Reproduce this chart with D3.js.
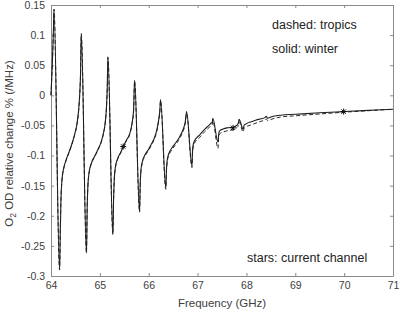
<!DOCTYPE html>
<html>
<head>
<meta charset="utf-8">
<script src="https://cdn.jsdelivr.net/npm/d3@7"></script>
<style>
  body { margin: 0; background: #fff; }
  text { font-family: Arial, "Liberation Sans", sans-serif; }
</style>
</head>
<body>
<script>
// frequency (GHz) and relative change values
var winterFreq = [64.00, 64.03, 64.05, 64.061, 64.176,
  64.19, 64.205, 64.225, 64.26, 64.31, 64.37, 64.43, 64.48, 64.53, 64.565, 64.59, 64.606, 64.619, 64.726,
  64.74, 64.755, 64.78, 64.83, 64.90, 64.96, 65.02, 65.07, 65.11, 65.135, 65.152, 65.165, 65.267,
  65.28, 65.295, 65.32, 65.37, 65.43, 65.48, 65.54, 65.61, 65.66, 65.69, 65.711, 65.813,
  65.825, 65.84, 65.87, 65.93, 66.00, 66.06, 66.12, 66.17, 66.205, 66.228, 66.242, 66.350,
  66.362, 66.378, 66.41, 66.47, 66.54, 66.61, 66.67, 66.72, 66.75, 66.775, 66.886,
  66.895, 66.91, 66.94, 67.04, 67.15, 67.23, 67.28, 67.30, 67.311, 67.419,
  67.43, 67.45, 67.52, 67.60, 67.73, 67.80, 67.835, 67.848, 67.934,
  67.95, 68.00, 68.10, 68.20, 68.30, 68.38, 68.404, 68.435,
  68.5, 68.7, 69.0, 69.5, 70.0, 70.5, 71.0];
var winterVal = [0.000, 0.059, 0.108, 0.143, -0.290,
  -0.225, -0.170, -0.140, -0.121, -0.107, -0.094, -0.080, -0.066, -0.048, -0.025, 0.005, 0.040, 0.103, -0.262,
  -0.190, -0.150, -0.128, -0.112, -0.100, -0.090, -0.079, -0.064, -0.045, -0.020, 0.015, 0.064, -0.231,
  -0.175, -0.140, -0.118, -0.104, -0.094, -0.085, -0.075, -0.064, -0.046, -0.025, 0.025, -0.193,
  -0.150, -0.125, -0.110, -0.098, -0.089, -0.080, -0.070, -0.056, -0.040, -0.025, -0.007, -0.154,
  -0.125, -0.108, -0.097, -0.088, -0.080, -0.072, -0.063, -0.053, -0.043, -0.027, -0.117,
  -0.095, -0.082, -0.075, -0.066, -0.056, -0.050, -0.046, -0.045, -0.038, -0.078,
  -0.066, -0.059, -0.056, -0.054, -0.053, -0.050, -0.046, -0.040, -0.056,
  -0.050, -0.047, -0.044, -0.041, -0.039, -0.037, -0.035, -0.038,
  -0.036, -0.033, -0.0315, -0.029, -0.027, -0.025, -0.023];

var tropicsFreq = [64.00, 64.03, 64.05, 64.061, 64.176,
  64.19, 64.205, 64.225, 64.26, 64.31, 64.37, 64.43, 64.48, 64.53, 64.565, 64.59, 64.606, 64.619, 64.726,
  64.74, 64.755, 64.78, 64.83, 64.90, 64.96, 65.02, 65.07, 65.11, 65.135, 65.152, 65.165, 65.267,
  65.28, 65.295, 65.32, 65.37, 65.43, 65.48, 65.54, 65.61, 65.66, 65.69, 65.711, 65.813,
  65.825, 65.84, 65.87, 65.93, 66.00, 66.06, 66.12, 66.17, 66.205, 66.228, 66.242, 66.350,
  66.362, 66.378, 66.41, 66.47, 66.54, 66.61, 66.67, 66.72, 66.75, 66.775, 66.886,
  66.895, 66.91, 66.94, 67.04, 67.15, 67.23, 67.28, 67.30, 67.311, 67.419,
  67.43, 67.45, 67.52, 67.60, 67.73, 67.80, 67.835, 67.848, 67.934,
  67.95, 68.00, 68.10, 68.20, 68.30, 68.38, 68.404, 68.435,
  68.5, 68.7, 69.0, 69.5, 70.0, 70.5, 71.0];
var tropicsVal = [0.000, 0.059, 0.108, 0.143, -0.290,
  -0.225, -0.170, -0.141, -0.122, -0.108, -0.095, -0.081, -0.067, -0.049, -0.026, 0.004, 0.039, 0.102, -0.262,
  -0.190, -0.151, -0.129, -0.113, -0.101, -0.091, -0.080, -0.065, -0.046, -0.021, 0.014, 0.063, -0.231,
  -0.176, -0.141, -0.119, -0.105, -0.095, -0.086, -0.076, -0.065, -0.047, -0.026, 0.024, -0.194,
  -0.152, -0.127, -0.112, -0.100, -0.091, -0.082, -0.072, -0.058, -0.042, -0.027, -0.009, -0.156,
  -0.128, -0.111, -0.100, -0.091, -0.083, -0.075, -0.066, -0.056, -0.046, -0.030, -0.120,
  -0.099, -0.086, -0.079, -0.070, -0.060, -0.054, -0.050, -0.049, -0.042, -0.088,
  -0.071, -0.064, -0.061, -0.059, -0.057, -0.054, -0.050, -0.044, -0.061,
  -0.055, -0.052, -0.049, -0.046, -0.043, -0.041, -0.039, -0.042,
  -0.040, -0.036, -0.034, -0.031, -0.028, -0.0255, -0.0232];

var starFreq = [65.478, 67.726, 69.99];
var starVal = [-0.085, -0.054, -0.027];

var xTicks = [64, 65, 66, 67, 68, 69, 70, 71];
var yTicks = [0.15, 0.1, 0.05, 0, -0.05, -0.1, -0.15, -0.2, -0.25, -0.3];
var notes = ["dashed: tropics", "solid: winter", "stars: current channel"];

var w = 400, h = 311;
var margin = { left: 51, right: 7, top: 5, bottom: 35 };

var svg = d3.select("body").append("svg")
    .attr("width", w)
    .attr("height", h);

var x = d3.scaleLinear().domain([64, 71]).range([margin.left, w - margin.right]);
var y = d3.scaleLinear().domain([-0.3, 0.15]).range([h - margin.bottom, margin.top]);

var axisColor = "#8a8a8a", textColor = "#404040";

// axes (box with inward ticks on all sides)
svg.append("g")
    .attr("transform", "translate(0," + (h - margin.bottom) + ")")
    .call(d3.axisBottom(x).tickValues(xTicks).tickSizeInner(-3).tickSizeOuter(0).tickPadding(6).tickFormat(d3.format("d")));
svg.append("g")
    .attr("transform", "translate(0," + margin.top + ")")
    .call(d3.axisTop(x).tickValues(xTicks).tickSizeInner(-3).tickSizeOuter(0).tickFormat(""));
svg.append("g")
    .attr("transform", "translate(" + margin.left + ",0)")
    .call(d3.axisLeft(y).tickValues(yTicks).tickSizeInner(-3).tickSizeOuter(0).tickPadding(6).tickFormat(function(d){ return String(d); }));
svg.append("g")
    .attr("transform", "translate(" + (w - margin.right) + ",0)")
    .call(d3.axisRight(y).tickValues(yTicks).tickSizeInner(-3).tickSizeOuter(0).tickFormat(""));

svg.selectAll(".domain, .tick line").attr("stroke", axisColor);
svg.selectAll(".tick text").attr("fill", textColor).style("font-size", "10.5px");

// series
var line = d3.line()
    .x(function(d){ return x(d[0]); })
    .y(function(d){ return y(d[1]); })
    .curve(d3.curveMonotoneX);

var winter = d3.zip(winterFreq, winterVal);
var tropics = d3.zip(tropicsFreq, tropicsVal);

svg.append("path")
    .datum(tropics)
    .attr("fill", "none")
    .attr("stroke", "#2a2a2a")
    .attr("stroke-width", 1)
    .attr("stroke-dasharray", "4,2.5")
    .attr("d", line);

svg.append("path")
    .datum(winter)
    .attr("fill", "none")
    .attr("stroke", "#1e1e1e")
    .attr("stroke-width", 1.1)
    .attr("d", line);

// star markers
var stars = d3.zip(starFreq, starVal);
svg.selectAll(".star")
    .data(stars)
    .enter()
    .append("path")
    .attr("class", "star")
    .attr("transform", function(d){ return "translate(" + x(d[0]) + "," + y(d[1]) + ")"; })
    .attr("d", "M-3,0H3M0,-3V3M-2.2,-2.2L2.2,2.2M-2.2,2.2L2.2,-2.2")
    .attr("stroke", "#111")
    .attr("stroke-width", 1);

// annotations
var noteX = [272, 272, 247], noteY = [29, 53, 262];
svg.selectAll(".note")
    .data(notes)
    .enter()
    .append("text")
    .attr("class", "note")
    .attr("x", function(d, i){ return noteX[i]; })
    .attr("y", function(d, i){ return noteY[i]; })
    .attr("fill", "#222")
    .style("font-size", "12.5px")
    .text(function(d){ return d; });

// axis labels
svg.append("text")
    .attr("x", (margin.left + w - margin.right) / 2)
    .attr("y", 307)
    .attr("text-anchor", "middle")
    .attr("fill", textColor)
    .style("font-size", "11.5px")
    .text("Frequency (GHz)");

var yl = svg.append("text")
    .attr("transform", "translate(13," + ((margin.top + h - margin.bottom) / 2 + 3) + ") rotate(-90)")
    .attr("text-anchor", "middle")
    .attr("fill", textColor)
    .style("font-size", "11.5px");
yl.append("tspan").text("O");
yl.append("tspan").attr("dy", 3).style("font-size", "8.5px").text("2");
yl.append("tspan").attr("dy", -3).text(" OD relative change % (/MHz)");
</script>
</body>
</html>
